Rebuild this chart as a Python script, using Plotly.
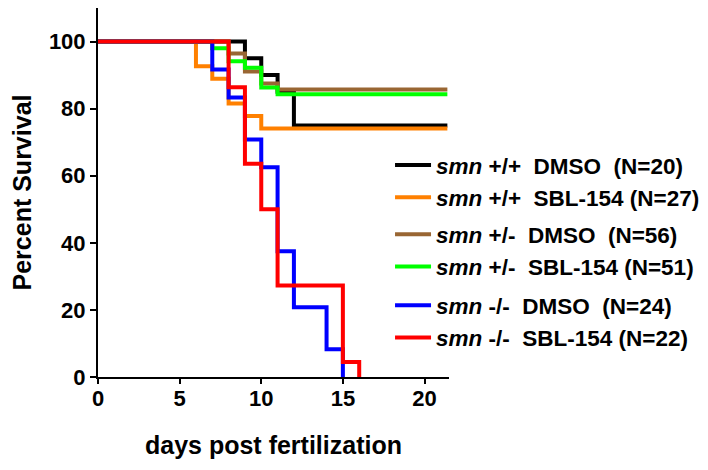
import plotly.graph_objects as go

# Kaplan-Meier step values (day, percent surviving)
wt_dmso_days = [0, 9, 10, 11, 12, 21.4]
wt_dmso_surv = [100, 95, 90, 85, 75, 75]

wt_sbl_days = [0, 6, 7, 8, 9, 10, 21.4]
wt_sbl_surv = [100, 92.6, 88.9, 81.5, 77.8, 74.1, 74.1]

het_dmso_days = [0, 8, 9, 10, 11, 21.4]
het_dmso_surv = [100, 96.4, 91.1, 87.5, 85.7, 85.7]

het_sbl_days = [0, 7, 8, 9, 10, 11, 21.4]
het_sbl_surv = [100, 98.0, 94.1, 92.2, 86.3, 84.3, 84.3]

mut_dmso_days = [0, 7, 8, 9, 10, 11, 12, 14, 15]
mut_dmso_surv = [100, 91.7, 83.3, 70.8, 62.5, 37.5, 20.8, 8.3, 0]

mut_sbl_days = [0, 8, 9, 10, 11, 15, 16]
mut_sbl_surv = [100, 86.4, 63.6, 50, 27.3, 4.5, 0]

sp = "\u00a0"
series = [
    ("legend", f"<i>smn</i> +/+{sp}{sp}DMSO{sp}{sp}(N=20)", wt_dmso_days, wt_dmso_surv, "#000000"),
    ("legend", f"<i>smn</i> +/+{sp}{sp}SBL-154 (N=27)", wt_sbl_days, wt_sbl_surv, "#ff8000"),
    ("legend2", f"<i>smn</i> +/-{sp}{sp}DMSO{sp}{sp}(N=56)", het_dmso_days, het_dmso_surv, "#996633"),
    ("legend2", f"<i>smn</i> +/-{sp}{sp}SBL-154 (N=51)", het_sbl_days, het_sbl_surv, "#00ff00"),
    ("legend3", f"<i>smn</i> -/-{sp}{sp}DMSO{sp}{sp}(N=24)", mut_dmso_days, mut_dmso_surv, "#0000ff"),
    ("legend3", f"<i>smn</i> -/-{sp}{sp}SBL-154 (N=22)", mut_sbl_days, mut_sbl_surv, "#ff0000"),
]

fig = go.Figure()
for leg, name, days, surv, color in series:
    fig.add_trace(go.Scatter(
        x=days, y=surv, name=name, legend=leg,
        mode="lines", line=dict(color=color, width=4, shape="hv"),
    ))

font = dict(family="Liberation Sans, Arial, sans-serif", color="black", weight="bold")


def legend_box(y):
    return dict(
        x=0.832, y=y, xanchor="left", yanchor="top",
        font=dict(**font, size=22.5),
        bgcolor="rgba(0,0,0,0)", itemwidth=36,
    )


# the page body has an 8px margin, so the figure is 8px smaller each way
fig.update_layout(
    width=700, height=462, autosize=False,
    margin=dict(l=90, r=259, t=0, b=93, pad=0),
    plot_bgcolor="white", paper_bgcolor="white",
    font=dict(**font, size=21),
    legend=legend_box(0.632),
    legend2=legend_box(0.444),
    legend3=legend_box(0.252),
)
fig.update_xaxes(
    range=[0, 21.5], tickvals=[0, 5, 10, 15, 20],
    showline=True, linecolor="black", linewidth=2,
    ticks="outside", ticklen=5, tickwidth=2, tickcolor="black",
    showgrid=False, zeroline=False, automargin=False,
    tickfont=dict(**font, size=22), ticklabelstandoff=-4,
    title=dict(text="days post fertilization", font=dict(**font, size=25), standoff=26),
)
fig.update_yaxes(
    range=[0, 110], tickvals=[0, 20, 40, 60, 80, 100],
    showline=True, linecolor="black", linewidth=2,
    ticks="outside", ticklen=6, tickwidth=2, tickcolor="black",
    showgrid=False, zeroline=False, automargin=False,
    tickfont=dict(**font, size=22),
    title=dict(text="Percent Survival", font=dict(**font, size=25), standoff=16),
)

fig.write_html("out.html")
